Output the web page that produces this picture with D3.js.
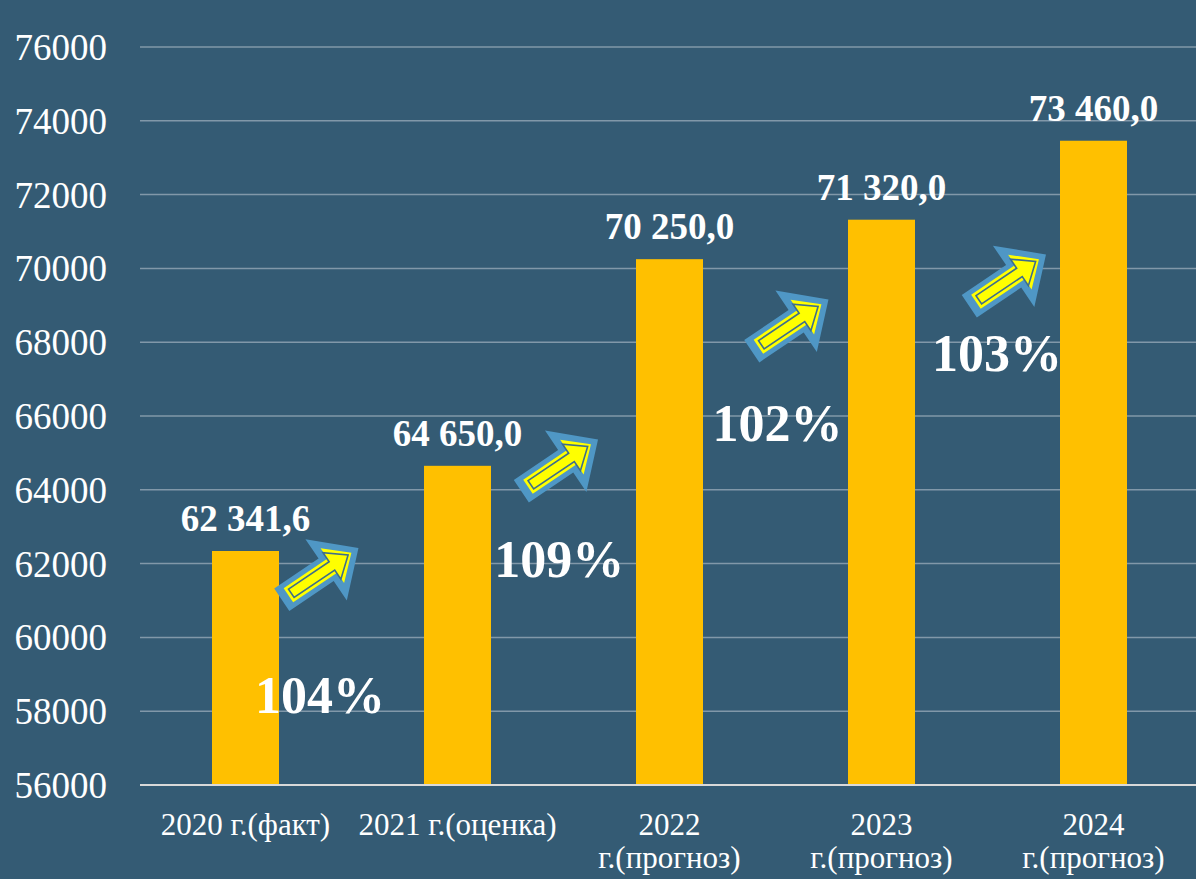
<!DOCTYPE html>
<html><head><meta charset="utf-8">
<script src="https://cdn.jsdelivr.net/npm/d3@7"></script>
<style>html,body{margin:0;padding:0;background:#345B74;}svg{display:block;}</style>
</head><body>
<svg id="c" width="1196" height="879"></svg>
<script>
// ---- data ----
const categories = ["2020 г.(факт)", "2021 г.(оценка)", "2022\nг.(прогноз)", "2023\nг.(прогноз)", "2024\nг.(прогноз)"];
const values = [62341.6, 64650.0, 70250.0, 71320.0, 73460.0];
const yTicks = [56000, 58000, 60000, 62000, 64000, 66000, 68000, 70000, 72000, 74000, 76000];
const growthLabels = ["104%", "109%", "102%", "103%"];
// annotation anchors: category index (+ fraction of a step) and value
const growthAnchorIdx = [0.351, 1.48, 2.51, 3.545];
const growthAnchorVal = [57951, 61637, 65322, 67220];
const arrowAnchorIdx = [0.351, 1.481, 2.568, 3.594];
const arrowAnchorVal = [61718, 64659, 68453, 69672];

const W = 1196, H = 879;
const svg = d3.select("#c");
svg.append("rect").attr("width", W).attr("height", H).attr("fill", "#345B74");

const y = d3.scaleLinear().domain([56000, 76000]).range([785, 47]);
const x = d3.scaleBand().domain(categories).range([139.5, 1199.5]).paddingInner(0.684).paddingOuter(0.342);
const step = x.step();
const cx = i => x(categories[0]) + x.bandwidth() / 2 + i * step;

// gridlines
svg.append("g").selectAll("line").data(yTicks.filter(t => t !== 56000)).join("line")
  .attr("x1", 140).attr("x2", W).attr("y1", d => y(d)).attr("y2", d => y(d))
  .attr("stroke", "#8198A9").attr("stroke-width", 1.5);

// y axis labels
const yAxis = d3.axisLeft(y).tickValues(yTicks).tickSize(0).tickPadding(0).tickFormat(d3.format("d"));
const ga = svg.append("g").attr("transform", "translate(107,0)").call(yAxis);
ga.select(".domain").remove();
ga.selectAll("text").attr("fill", "#fff").attr("font-family", "'Liberation Serif','Times New Roman',serif")
  .attr("font-size", 37).attr("dy", "0.34em");

// bars
svg.append("g").selectAll("rect").data(values).join("rect")
  .attr("x", (d, i) => x(categories[i])).attr("width", x.bandwidth())
  .attr("y", d => y(d)).attr("height", d => y(56000) - y(d))
  .attr("fill", "#FFC000");

// baseline
svg.append("line").attr("x1", 140).attr("x2", W).attr("y1", y(56000)).attr("y2", y(56000))
  .attr("stroke", "#D9D9D9").attr("stroke-width", 2);

// value labels
const ru = d3.formatLocale({decimal: ",", thousands: " ", grouping: [3], currency: ["", ""]});
const fmt = ru.format(",.1f");
svg.append("g").selectAll("text").data(values).join("text")
  .attr("x", (d, i) => cx(i)).attr("y", d => y(d) - 20)
  .attr("text-anchor", "middle").attr("fill", "#fff")
  .attr("font-family", "'Liberation Serif','Times New Roman',serif").attr("font-weight", "bold")
  .attr("font-size", 37).text(d => fmt(d));

// category labels
const gc = svg.append("g");
categories.forEach((c, i) => {
  const t = gc.append("text").attr("x", cx(i)).attr("y", 835).attr("text-anchor", "middle")
    .attr("fill", "#fff").attr("font-family", "'Liberation Serif','Times New Roman',serif").attr("font-size", 31);
  c.split("\n").forEach((line, j) => {
    t.append("tspan").attr("x", cx(i)).attr("dy", j === 0 ? 0 : 33).text(line);
  });
});

// arrows
const arrowPts = (a, b, c, h, Hh) => [[-a, -h], [b, -h], [b, -Hh], [b + c, 0], [b, Hh], [b, h], [-a, h]];
const line = d3.line().curve(d3.curveLinearClosed);
const blue = arrowPts(46, 7.5, 39, 13.5, 37);
const yel = arrowPts(38, 15, 23, 8.5, 21);
const inner = arrowPts(34.5, 14.5, 19.5, 5, 16);
const ga2 = svg.append("g");
arrowAnchorIdx.forEach((ai, k) => {
  const g = ga2.append("g").attr("transform", `translate(${cx(ai)},${y(arrowAnchorVal[k])}) rotate(-34)`);
  g.append("path").attr("d", line(blue)).attr("fill", "#4F97C5");
  g.append("path").attr("d", line(yel)).attr("fill", "#FFFF00");
  g.append("path").attr("d", line(inner)).attr("fill", "#FFFF00").attr("stroke", "#3E6E8C").attr("stroke-width", 1.6);
});

// growth labels
svg.append("g").selectAll("text").data(growthLabels).join("text")
  .attr("x", (d, i) => cx(growthAnchorIdx[i])).attr("y", (d, i) => y(growthAnchorVal[i]))
  .attr("text-anchor", "middle").attr("fill", "#fff")
  .attr("font-family", "'Liberation Serif','Times New Roman',serif").attr("font-weight", "bold")
  .attr("font-size", 52).text(d => d);
</script>
</body></html>
